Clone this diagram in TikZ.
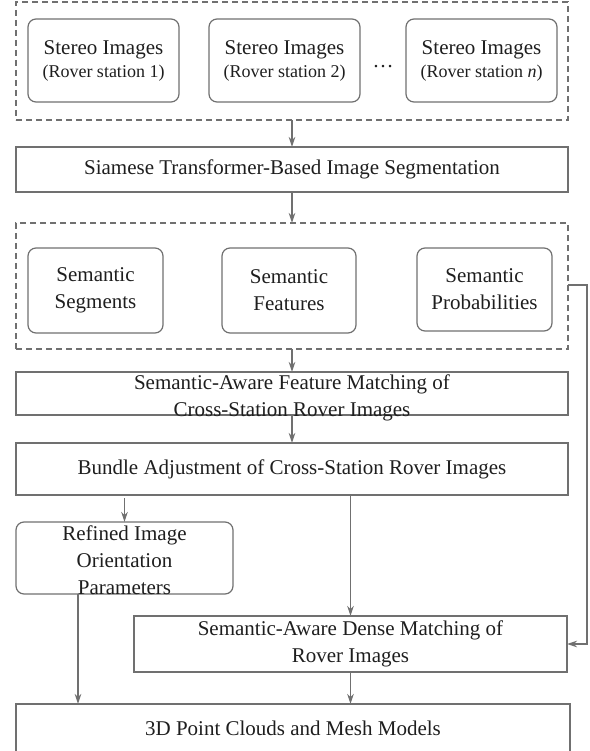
\documentclass[tikz,border=0pt]{standalone}
\usepackage{fontspec}
\setmainfont{Liberation Serif}
\usetikzlibrary{arrows.meta}

\definecolor{edge}{HTML}{707070}
\definecolor{ink}{HTML}{1E1E1E}

\tikzset{
  frame/.style={draw=edge, line width=1.2pt, inner sep=0pt, outer sep=0pt},
  plainbox/.style={frame},
  roundbox/.style={frame, rounded corners=8pt},
  groupbox/.style={frame, dash pattern=on 6pt off 4pt},
  txt/.style={text=ink, font=\fontsize{21}{27}\selectfont, align=center, inner sep=0pt},
  subtxt/.style={text=ink, font=\fontsize{18}{22}\selectfont, align=center, inner sep=0pt},
  flow/.style={draw=edge, line width=1.3pt, -{Stealth[length=10pt,width=6.5pt,inset=3pt]}},
}

% \blk[style]{name}{x1}{y1}{x2}{y2}: a box spanning the given corners
\newcommand\blk[6][plainbox]{%
  \pgfmathsetmacro\blkw{#5-#3}%
  \pgfmathsetmacro\blkh{#6-#4}%
  \node[#1, minimum width=\blkw pt, minimum height=\blkh pt] (#2)
    at ({(#3+#5)/2},{(#4+#6)/2}) {};%
}

\begin{document}
\begin{tikzpicture}[x=1pt, y=-1pt]
\useasboundingbox (0,0) rectangle (589,751);

% input stereo images
\blk[groupbox]{grp1}{16}{2}{568}{120}
\blk[roundbox]{st1}{28}{19}{179}{102}
\blk[roundbox]{st2}{209}{19}{360}{102}
\blk[roundbox]{st3}{406}{19}{557}{102}
\foreach \s/\lab in {st1/1, st2/2, st3/\textit{n}}{
  \node[txt, anchor=base] at (\s.center |- 0,55) {Stereo Images};
  \node[subtxt, anchor=base] at (\s.center |- 0,78) {(Rover station \lab)};
}
\node[txt, anchor=base] (dots) at (383,68) {\ldots};

% segmentation
\blk{seg}{16}{147}{568}{192}
\node[txt] at (seg.center) {Siamese Transformer-Based Image Segmentation};

% semantic outputs
\blk[groupbox]{grp2}{16}{223}{568}{349}
\blk[roundbox]{sseg}{28}{248}{163}{333}
\blk[roundbox]{sfea}{222}{248}{356}{333}
\blk[roundbox]{sprob}{417}{248}{552}{331}
\node[txt] at (sseg.center) {Semantic\\Segments};
\node[txt] at (sfea.center) {Semantic\\Features};
\node[txt] at (sprob.center) {Semantic\\Probabilities};
\coordinate (fbk) at (0,285);

% matching and adjustment
\blk{fmatch}{16}{372}{568}{415}
\node[txt] at ([yshift=-4pt]fmatch.center) {Semantic-Aware Feature Matching of\\Cross-Station Rover Images};
\blk{bundle}{16}{443}{568}{495}
\node[txt] at (bundle.center) {Bundle Adjustment of Cross-Station Rover Images};

\blk[roundbox]{refined}{16}{522}{233}{594}
\node[txt] at ([yshift=-2pt]refined.center) {Refined Image\\Orientation\\Parameters};

\blk{dense}{134}{616}{567}{672}
\node[txt] at (dense.center) {Semantic-Aware Dense Matching of\\Rover Images};

% last box runs past the lower edge of the page
\blk{pcm}{16}{704}{570}{756}
\node[txt] at (pcm.center |- 0,728) {3D Point Clouds and Mesh Models};

% connectors
\coordinate (lx) at (78,0);
\coordinate (fbx) at (587,0);
\draw[flow] (grp1.south) -- (seg.north);
\draw[flow] (seg.south) -- (grp2.north);
\draw[flow] (grp2.south) -- (fmatch.north);
\draw[flow] (fmatch.south) -- (bundle.north);
\draw[flow, shorten <=3pt] (bundle.south -| refined.north) -- (refined.north);
\draw[flow] (bundle.south -| dense.north) -- (dense.north);
\draw[flow] (lx |- refined.south) -- (lx |- pcm.north);
\draw[flow] (dense.south) -- (dense.south |- pcm.north);
\draw[flow] (grp2.east |- fbk) -- (fbx |- fbk) |- (dense.east);
\end{tikzpicture}
\end{document}
